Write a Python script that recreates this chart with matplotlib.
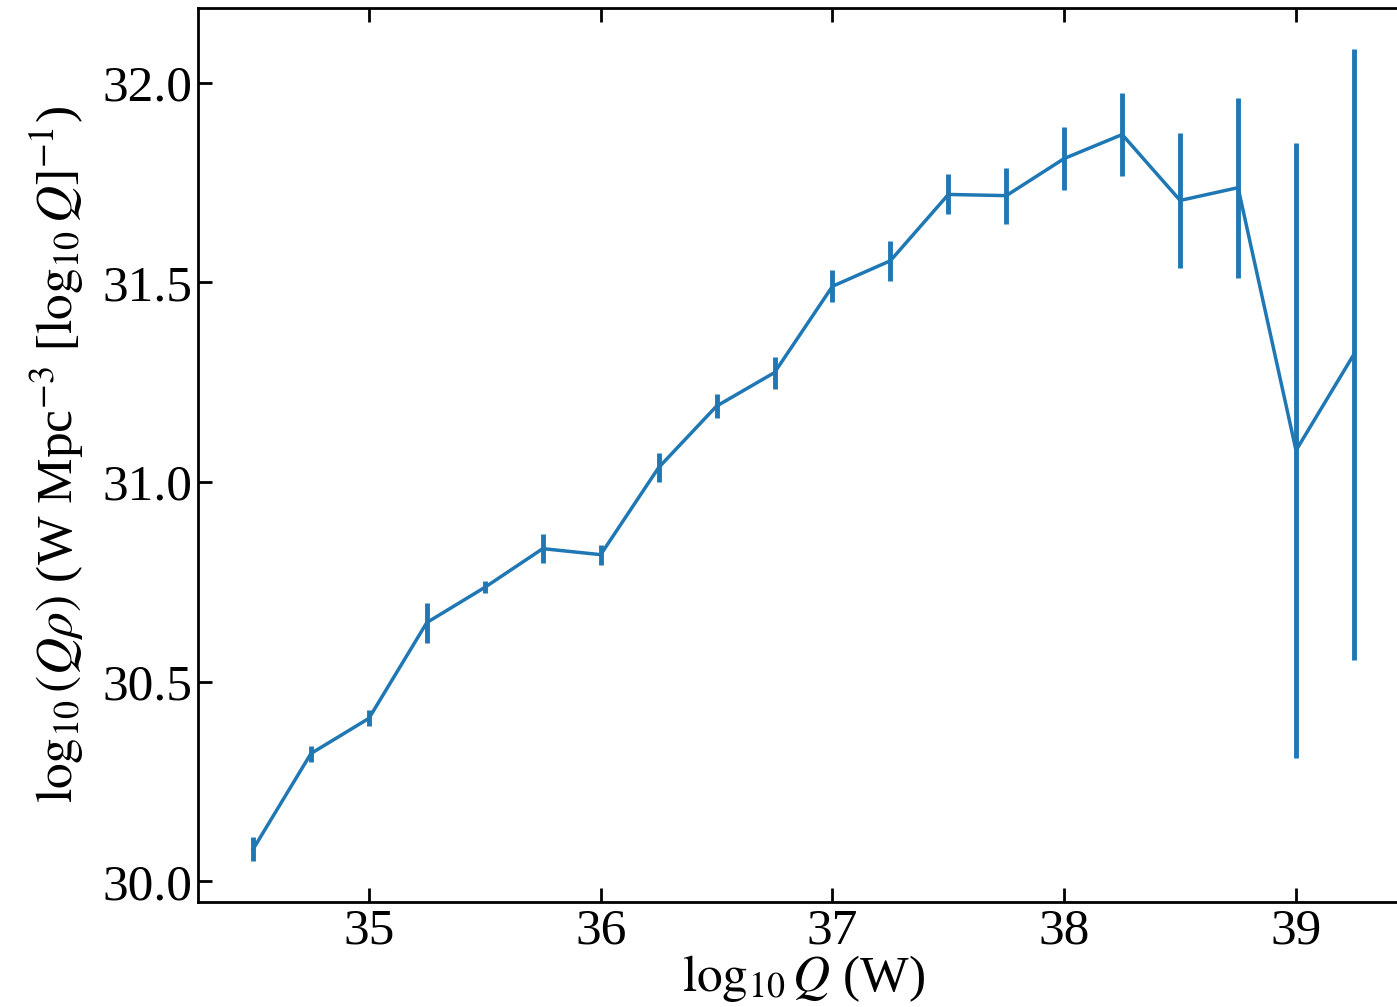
import matplotlib
matplotlib.use('Agg')
import matplotlib.pyplot as plt
import numpy as np

# luminosity bins and log density
log_q = [34.5, 34.75, 35.0, 35.25, 35.5, 35.75, 36.0, 36.25, 36.5, 36.75,
         37.0, 37.25, 37.5, 37.75, 38.0, 38.25, 38.5, 38.75, 39.0, 39.25]
log_qrho = [30.08, 30.32, 30.408, 30.648, 30.736, 30.833, 30.818, 31.036, 31.19, 31.274,
            31.49, 31.554, 31.72, 31.717, 31.81, 31.87, 31.705, 31.737, 31.079, 31.32]
err = [0.03, 0.02, 0.02, 0.05, 0.015, 0.037, 0.025, 0.037, 0.03, 0.04,
       0.04, 0.05, 0.05, 0.07, 0.08, 0.105, 0.17, 0.225, 0.77, 0.765]

plt.rcParams['font.family'] = 'Liberation Serif'
plt.rcParams['mathtext.fontset'] = 'stix'

fig = plt.figure(dpi=100, figsize=(13.97, 10.07))
ax = fig.add_axes([0.1417, 0.1043, 0.8669, 0.8877])

ax.errorbar(log_q, log_qrho, yerr=err, color='#1f77b4', lw=2.5, elinewidth=3.5)

ax.set_xticks([35, 36, 37, 38, 39])
ax.set_yticks([30.0, 30.5, 31.0, 31.5, 32.0])
ax.tick_params(direction='in', top=True, right=False, length=10, width=2,
               labelsize=37, pad=4)
for s in ax.spines.values():
    s.set_linewidth(2)

ax.set_xlabel(r'$\log_{10}Q$ (W)', fontsize=37, labelpad=-1)
ax.set_ylabel(r'$\log_{10}(Q\rho)$ (W Mpc$^{-3}$ [$\log_{10}Q$]$^{-1}$)', fontsize=37, labelpad=12)

plt.savefig("out.png")
